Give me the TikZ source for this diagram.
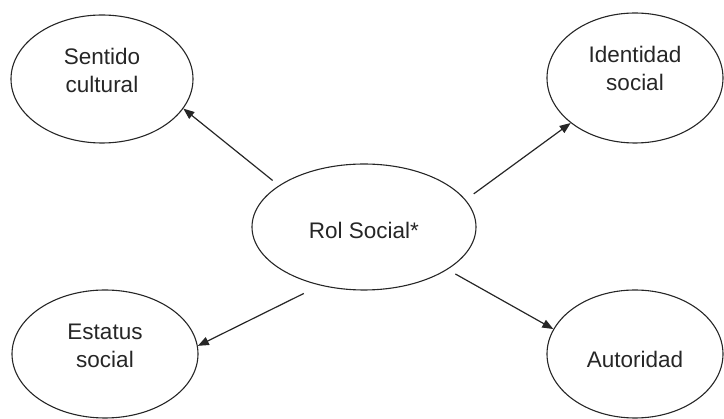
\documentclass[tikz,border=0pt]{standalone}
\usepackage{fontspec}
\setmainfont{Liberation Sans}
\usetikzlibrary{shapes.geometric,arrows.meta}
\begin{document}
\begin{tikzpicture}[x=1pt,y=-1pt,
  ell/.style={draw=black!85, line width=1.1pt, ellipse, inner sep=0pt},
  txt/.style={font=\fontsize{22.5}{28}\selectfont, text=black!85, align=center, inner sep=0pt},
  arr/.style={draw=black!85, line width=1.2pt, -{Triangle[length=11pt,width=8.5pt]}}]
\useasboundingbox (0,0) rectangle (724,419);
\node[ell, minimum width=182pt, minimum height=128pt,
  label={[txt, yshift=9pt]center:{Sentido\\cultural}}] (sentido) at (102,79) {};
\node[ell, minimum width=176pt, minimum height=130pt,
  label={[txt, yshift=10pt]center:{Identidad\\social}}] (ident) at (635,78) {};
\node[ell, minimum width=224pt, minimum height=126pt,
  label={[txt, yshift=-3pt]center:{Rol Social*}}] (rol) at (364,227) {};
\node[ell, minimum width=186pt, minimum height=128pt,
  label={[txt, yshift=8pt]center:{Estatus\\social}}] (estatus) at (105,354) {};
\node[ell, minimum width=176pt, minimum height=128pt,
  label={[txt, yshift=-5pt]center:{Autoridad}}] (autor) at (635,354) {};
\draw[arr, shorten <=8pt] (rol.154) -- (sentido.-20);
\draw[arr, shorten <=10pt] (rol.15) -- (ident.215);
\draw[arr, shorten <=18pt] (rol.233) -- (estatus.5);
\draw[arr, shorten <=9pt] (rol.-27) -- (autor.163);
\end{tikzpicture}
\end{document}
